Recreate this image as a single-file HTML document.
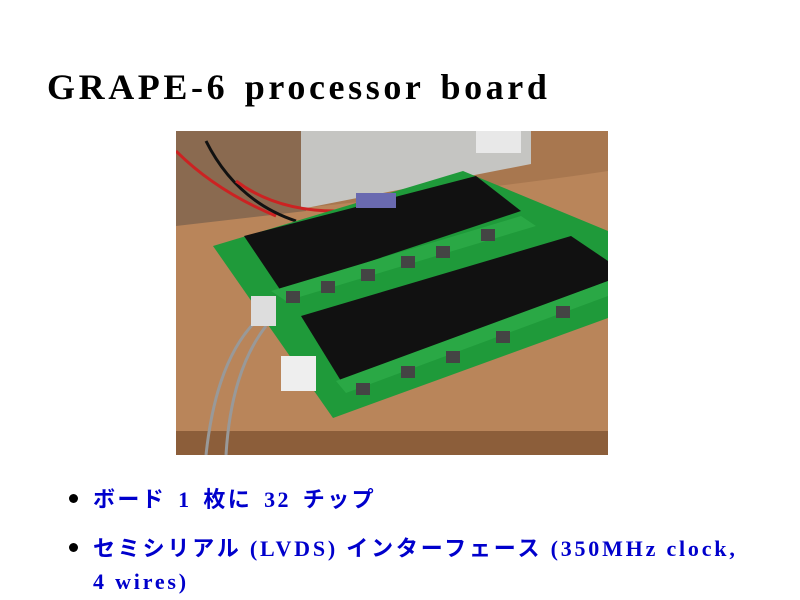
<!DOCTYPE html>
<html><head><meta charset="utf-8"><style>
body{margin:0;width:800px;height:600px;background:#fff;position:relative;overflow:hidden;font-family:"Liberation Serif","Noto Serif CJK SC",serif}
.t{position:absolute;left:47px;top:66px;font-size:36px;font-weight:bold;color:#000;letter-spacing:3.6px;word-spacing:4px}
.b{position:absolute;color:#0000cc;font-size:22px;font-weight:bold;font-family:"Liberation Serif","Noto Sans CJK JP",serif;letter-spacing:2.8px;white-space:nowrap}
.dot{position:absolute;width:9px;height:9px;border-radius:50%;background:#000}
</style></head><body>
<div class="t">GRAPE-6 processor board</div>
<svg style="position:absolute;left:176px;top:131px" width="432" height="324" viewBox="0 0 432 324">
<rect width="432" height="324" fill="#b9855a"/>
<path d="M0 0H432V40Q300 60 0 90Z" fill="#a8774f"/>
<path d="M0 0H130V80L0 95Z" fill="#8a6a50"/>
<rect x="0" y="300" width="432" height="24" fill="#8c5e3a"/>
<polygon points="125,0 355,0 355,33 125,78" fill="#c5c5c2"/>
<rect x="300" y="0" width="45" height="22" fill="#e8e8e8"/>
<path d="M0 20Q40 60 100 85" stroke="#c22" stroke-width="3" fill="none"/>
<path d="M30 10Q60 70 120 90" stroke="#111" stroke-width="3" fill="none"/>
<path d="M60 50Q100 80 160 80" stroke="#c22" stroke-width="3" fill="none"/>
<polygon points="37,115 287,40 432,100 432,187 157,287" fill="#1f9a3a"/>
<polygon points="68,105 300,45 345,80 105,160" fill="#111"/>
<polygon points="125,185 395,105 432,130 432,150 165,250" fill="#111"/>
<polygon points="95,160 345,85 360,95 110,170" fill="#2aa845"/>
<polygon points="160,250 432,150 432,165 170,262" fill="#2aa845"/>
<g fill="#444"><rect x="110" y="160" width="14" height="12"/><rect x="145" y="150" width="14" height="12"/><rect x="185" y="138" width="14" height="12"/><rect x="225" y="125" width="14" height="12"/><rect x="260" y="115" width="14" height="12"/><rect x="305" y="98" width="14" height="12"/>
<rect x="180" y="252" width="14" height="12"/><rect x="225" y="235" width="14" height="12"/><rect x="270" y="220" width="14" height="12"/><rect x="320" y="200" width="14" height="12"/><rect x="380" y="175" width="14" height="12"/></g>
<path d="M80 190Q40 230 30 324M90 195Q55 240 50 324" stroke="#999" stroke-width="3" fill="none"/>
<rect x="75" y="165" width="25" height="30" fill="#ddd"/>
<rect x="105" y="225" width="35" height="35" fill="#eee"/>
<rect x="180" y="62" width="40" height="15" fill="#6a6ab0"/>
</svg>
<div class="dot" style="left:69px;top:494px"></div>
<div class="b" style="left:93px;top:482px;letter-spacing:2.4px;word-spacing:4px">ボード 1 枚に 32 チップ</div>
<div class="dot" style="left:69px;top:543px"></div>
<div class="b" style="left:93px;top:531px">セミシリアル (LVDS) インターフェース (350MHz clock,</div>
<div class="b" style="left:93px;top:569px">4 wires)</div>
</body></html>
